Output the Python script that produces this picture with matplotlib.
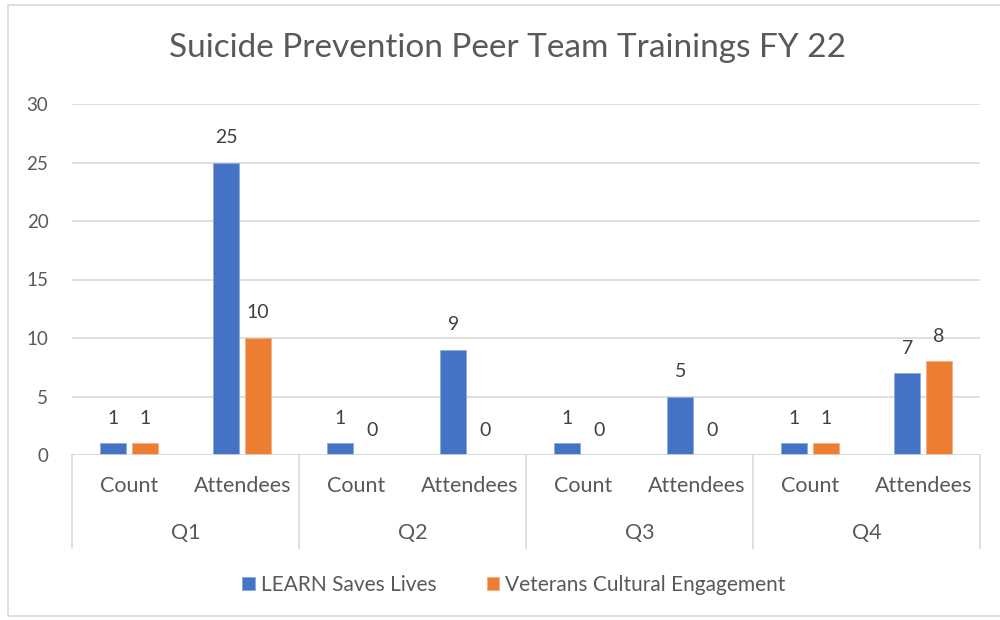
import matplotlib.pyplot as plt
import numpy as np

plt.rcParams['font.family'] = ['Lato', 'DejaVu Sans']

# chart data
quarters = ['Q1', 'Q2', 'Q3', 'Q4']
measures = ['Count', 'Attendees']
learn = [1, 25, 1, 9, 1, 5, 1, 7]
veterans = [1, 10, 0, 0, 0, 0, 1, 8]
series_names = ['LEARN Saves Lives', 'Veterans Cultural Engagement']
yticks = [0, 5, 10, 15, 20, 25, 30]

blue = '#4472C4'
orange = '#ED7D31'
grid_col = '#D9D9D9'
txt = '#595959'
lbl = '#404040'

fig = plt.figure(figsize=(10, 6.2), dpi=100)
# outer chart border like Excel (right side runs off the picture)
fig.patches.append(plt.Rectangle((0.008, 0.006), 1.05, 0.986, transform=fig.transFigure,
                                 fill=False, edgecolor=grid_col, linewidth=1.2))
ax = fig.add_axes([0.072, 1 - 455 / 620, 0.908, 351 / 620])

x = np.arange(len(learn))
w = 0.23
off = 0.14
bars1 = ax.bar(x - off, learn, w, color=blue, edgecolor='#8FAADC', linewidth=0.6, zorder=3,
               label=series_names[0])
bars2 = ax.bar(x + off, veterans, w, color=orange, edgecolor='#F4B183', linewidth=0.6, zorder=3,
               label=series_names[1])

# data labels
for bars, vals in [(bars1, learn), (bars2, veterans)]:
    for b, v in zip(bars, vals):
        ax.annotate(str(v), (b.get_x() + b.get_width() / 2, v), xytext=(0, 18),
                    textcoords='offset points', ha='center', va='center',
                    fontsize=14, color=lbl)

ax.set_ylim(0, 30)
ax.set_xlim(-0.5, len(learn) - 0.5)
ax.set_yticks(yticks)
ax.tick_params(axis='y', length=0, pad=17, labelsize=13.5, labelcolor=txt)
ax.set_xticks([])
ax.grid(axis='y', color=grid_col, linewidth=1.2, zorder=0)
for s in ax.spines.values():
    s.set_visible(False)
ax.axhline(0, color=grid_col, linewidth=1.2, zorder=4)

# two-level category axis
trans = ax.get_xaxis_transform()
for i in range(len(quarters) + 1):
    xs = i * 2 - 0.5
    ax.plot([xs, xs], [0, -0.265], color=grid_col, linewidth=1.2, transform=trans, clip_on=False)
for i in range(len(learn)):
    ax.text(i, -0.088, measures[i % 2], transform=trans, ha='center', va='center',
            fontsize=15.5, color=txt)
for i, q in enumerate(quarters):
    ax.text(i * 2 + 0.5, -0.222, q, transform=trans, ha='center', va='center',
            fontsize=15.5, color=txt)

fig.text(0.508, 1 - 48 / 620, 'Suicide Prevention Peer Team Trainings FY 22', ha='center',
         va='center', fontsize=24, color=txt)

fig.legend(loc='center', bbox_to_anchor=(0.514, 1 - 585 / 620), ncol=2, frameon=False,
           fontsize=15, labelcolor=txt, handlelength=0.6, handleheight=0.6,
           handletextpad=0.3, columnspacing=2.4)

fig.savefig('out.png', dpi=100, facecolor='white')
